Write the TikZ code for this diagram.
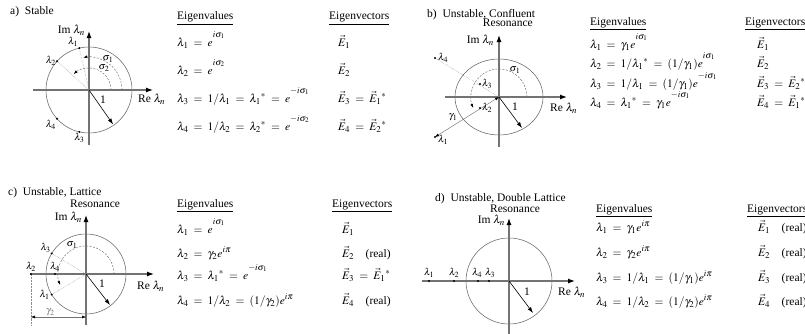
\documentclass[tikz,border=0pt]{standalone}
\usepackage{mathptmx}
\usepackage{fontspec}
\setmainfont{Liberation Serif}
\usetikzlibrary{arrows.meta,positioning}
\DeclareMathSizes{11.5}{11.5}{9}{7}
\DeclareMathSizes{10}{10}{8}{6}
\newcommand{\hexp}[1]{^{\raisebox{4.5pt}{$\scriptstyle #1$}}}
\newcommand{\imlab}{Im $\lambda_n$}
\newcommand{\relab}{Re $\lambda_n$}

\tikzset{
  axis/.style={black!55,line width=1.2pt,-{Latex[black,length=7pt,width=5pt]}},
  unitcirc/.style={black!60,line width=.55pt},
  ray/.style={black!45,line width=.45pt,densely dotted},
  anglearc/.style={black!55,line width=.5pt,dash pattern=on 2pt off 1.5pt,-{Latex[black,length=4pt,width=3pt]}},
  dimline/.style={black!55,line width=.45pt,{Latex[black,length=4pt,width=3pt]}-{Latex[black,length=4pt,width=3pt]}},
  unitvec/.style={black,line width=.6pt,-{Latex[length=6pt,width=4pt]}},
  lbl/.style={font=\fontsize{10}{11}\selectfont,inner sep=1pt},
  eqn/.style={anchor=base west,inner sep=0pt,execute at begin node={\thickmuskip=8mu}},
  title/.style={anchor=base west,inner sep=0pt},
}

\begin{document}
\begin{tikzpicture}[x=1pt,y=1pt,font=\fontsize{11.5}{13}\selectfont]
\clip (0,0) rectangle (805,333);

% ---------------- a) stable
\node[title] (a-title) at (10,319) {a)\ \ Stable};
\begin{scope}[shift={(89,243)}]
\coordinate (a-O) at (0,0);
\coordinate (a-xl) at (-56,0);
\coordinate (a-xr) at (64,0);
\coordinate (a-yb) at (0,-55);
\coordinate (a-yt) at (0,59);
\coordinate (a-l1) at (103:43);
\coordinate (a-l2) at (138:43);
\coordinate (a-l3) at (-103:43);
\coordinate (a-l4) at (-138:43);
\coordinate (a-u) at (-55:42);
\draw[unitcirc] (a-O) circle[radius=43];
\draw[axis] (a-xl) -- (a-xr);
\draw[axis] (a-yb) -- (a-yt);
\draw[ray] (a-O) -- (a-l1);
\draw[ray] (a-O) -- (a-l2);
\draw[anglearc] (a-O) ++(0:33) arc[start angle=0,end angle=100,radius=33];
\draw[anglearc] (a-O) ++(0:22) arc[start angle=0,end angle=134,radius=22];
\draw[unitvec] (a-O) -- (a-u);
\foreach \p in {a-l1,a-l2,a-l3,a-l4} \fill (\p) circle[radius=1.1pt];
\node[lbl,anchor=south east] (a-t1) at (a-l1) {$\lambda_1$};
\node[lbl,anchor=east] (a-t2) at (a-l2) {$\lambda_2$};
\node[lbl,anchor=north] (a-t3) at (a-l3) {$\lambda_3$};
\node[lbl,anchor=north east] (a-t4) at (a-l4) {$\lambda_4$};
\node[lbl] (a-s1) at (19,31) {$\sigma_1$};
\node[lbl] (a-s2) at (15,22) {$\sigma_2$};
\node (a-one) at (14,-10) {1};
\node[anchor=west,inner sep=1pt] (a-re) at (48,-9) {\relab};
\node[anchor=east,inner sep=1pt] (a-im) at (-3,60) {\imlab};
\end{scope}
\node[eqn] (a-vh) at (177,313) {\underline{Eigenvalues}};
\node[eqn] (a-v1) at (177,287) {$\lambda_1 = e\hexp{i\sigma_1}$};
\node[eqn] (a-v2) at (177,259) {$\lambda_2 = e\hexp{i\sigma_2}$};
\node[eqn] (a-v3) at (177,231) {$\lambda_3 = 1/\lambda_1 = \lambda_1{}^* = e\hexp{-i\sigma_1}$};
\node[eqn] (a-v4) at (177,203) {$\lambda_4 = 1/\lambda_2 = \lambda_2{}^* = e\hexp{-i\sigma_2}$};
\node[eqn] (a-eh) at (329,313) {\underline{Eigenvectors}};
\node[eqn] (a-e1) at (338,287) {$\vec{E}_1$};
\node[eqn] (a-e2) at (338,259) {$\vec{E}_2$};
\node[eqn] (a-e3) at (338,231) {$\vec{E}_3 = \vec{E}_1{}^*$};
\node[eqn] (a-e4) at (338,203) {$\vec{E}_4 = \vec{E}_2{}^*$};

% ---------------- b) confluent resonance
\node[title] (b-title) at (427,316) {b)\ \ Unstable, Confluent};
\node[anchor=base east,inner sep=0pt] (b-title2) at (533,306) {Resonance};
\begin{scope}[shift={(499,236)}]
\coordinate (b-O) at (0,0);
\coordinate (b-xl) at (-54,0);
\coordinate (b-xr) at (68,0);
\coordinate (b-yb) at (0,-50);
\coordinate (b-yt) at (0,62);
\coordinate (b-l1) at (-64,-40);
\coordinate (b-l2) at (-19,-11);
\coordinate (b-l3) at (-19,13);
\coordinate (b-l4) at (-64,39);
\coordinate (b-u) at (23,-31);
\draw[unitcirc] (b-O) ellipse[x radius=44,y radius=38];
\draw[axis] (b-xl) -- (b-xr);
\draw[axis] (b-yb) -- (b-yt);
\draw[ray] (b-l4) -- (b-O);
\draw[dimline] (b-l1) -- (b-O);
\draw[anglearc] (b-O) ++(0:28) arc[start angle=0,end angle=203,radius=28];
\draw[unitvec] (b-O) -- (b-u);
\foreach \p in {b-l1,b-l2,b-l3,b-l4} \fill (\p) circle[radius=1.1pt];
\node[lbl,anchor=west,xshift=2pt,yshift=-3pt] (b-t1) at (b-l1) {$\lambda_1$};
\node[lbl,anchor=west,xshift=1pt] (b-t2) at (b-l2) {$\lambda_2$};
\node[lbl,anchor=west,xshift=1pt] (b-t3) at (b-l3) {$\lambda_3$};
\node[lbl,anchor=west,xshift=2pt] (b-t4) at (b-l4) {$\lambda_4$};
\node[lbl] (b-s1) at (16,27) {$\sigma_1$};
\node[lbl] (b-g1) at (-46,-20) {$\gamma_1$};
\node (b-one) at (16,-10) {1};
\node[anchor=west,inner sep=1pt] (b-re) at (50,-11) {\relab};
\node[anchor=east,inner sep=1pt] (b-im) at (-4,57) {\imlab};
\end{scope}
\node[eqn] (b-vh) at (590,308) {\underline{Eigenvalues}};
\node[eqn] (b-v1) at (590,285) {$\lambda_1 = \gamma_1 e\hexp{i\sigma_1}$};
\node[eqn] (b-v2) at (590,266) {$\lambda_2 = 1/\lambda_1{}^* = (1/\gamma_1)e\hexp{i\sigma_1}$};
\node[eqn] (b-v3) at (590,246) {$\lambda_3 = 1/\lambda_1 = (1/\gamma_1)e\hexp{-i\sigma_1}$};
\node[eqn] (b-v4) at (590,227) {$\lambda_4 = \lambda_1{}^* = \gamma_1 e\hexp{-i\sigma_1}$};
\node[eqn] (b-eh) at (745,308) {\underline{Eigenvectors}};
\node[eqn] (b-e1) at (757,285) {$\vec{E}_1$};
\node[eqn] (b-e2) at (757,266) {$\vec{E}_2$};
\node[eqn] (b-e3) at (757,246) {$\vec{E}_3 = \vec{E}_2{}^*$};
\node[eqn] (b-e4) at (757,227) {$\vec{E}_4 = \vec{E}_1{}^*$};

% ---------------- c) lattice resonance
\node[title] (c-title) at (8,138) {c)\ \ Unstable, Lattice};
\node[title] (c-title2) at (70,126) {Resonance};
\begin{scope}[shift={(86,59)}]
\coordinate (c-O) at (0,0);
\coordinate (c-xl) at (-56,0);
\coordinate (c-xr) at (68,0);
\coordinate (c-yb) at (0,-51);
\coordinate (c-yt) at (0,59);
\coordinate (c-l1) at (211:40);
\coordinate (c-l2) at (-55,0);
\coordinate (c-l3) at (149:40);
\coordinate (c-l4) at (-31,0);
\coordinate (c-l2b) at (-55,-51);
\coordinate (c-d1) at (-55,-43);
\coordinate (c-d2) at (0,-43);
\coordinate (c-u) at (24,-31);
\draw[unitcirc] (c-O) circle[radius=40];
\draw[axis] (c-xl) -- (c-xr);
\draw[axis] (c-yb) -- (c-yt);
\draw[ray] (c-O) -- (c-l3);
\draw[ray] (c-O) -- (c-l1);
\draw[ray] (c-l2) -- (c-l2b);
\draw[dimline] (c-d1) -- node[lbl,pos=.35,above] (c-g2) {$\gamma_2$} (c-d2);
\draw[anglearc] (c-O) ++(0:28) arc[start angle=0,end angle=203,radius=28];
\draw[unitvec] (c-O) -- (c-u);
\foreach \p in {c-l1,c-l2,c-l3,c-l4} \fill (\p) circle[radius=1.1pt];
\node[lbl,anchor=south east] (c-t3) at (c-l3) {$\lambda_3$};
\node[lbl,anchor=east,xshift=-1pt] (c-t1) at (c-l1) {$\lambda_1$};
\node[lbl,anchor=south,yshift=1pt] (c-t2) at (c-l2) {$\lambda_2$};
\node[lbl,anchor=south,yshift=1pt] (c-t4) at (c-l4) {$\lambda_4$};
\node[lbl] (c-s1) at (-14,29) {$\sigma_1$};
\node (c-one) at (16,-10) {1};
\node[anchor=west,inner sep=1pt] (c-re) at (50,-12) {\relab};
\node[anchor=east,inner sep=1pt] (c-im) at (-3,57) {\imlab};
\end{scope}
\node[eqn] (c-vh) at (177,126) {\underline{Eigenvalues}};
\node[eqn] (c-v1) at (177,100) {$\lambda_1 = e\hexp{i\sigma_1}$};
\node[eqn] (c-v2) at (177,76) {$\lambda_2 = \gamma_2 e^{i\pi}$};
\node[eqn] (c-v3) at (177,54) {$\lambda_3 = \lambda_1{}^* = e\hexp{-i\sigma_1}$};
\node[eqn] (c-v4) at (177,29) {$\lambda_4 = 1/\lambda_2 = (1/\gamma_2)e^{i\pi}$};
\node[eqn] (c-eh) at (332,126) {\underline{Eigenvectors}};
\node[eqn] (c-e1) at (342,100) {$\vec{E}_1$};
\node[eqn] (c-e2) at (342,76) {$\vec{E}_2$\quad(real)};
\node[eqn] (c-e3) at (342,54) {$\vec{E}_3 = \vec{E}_1{}^*$};
\node[eqn] (c-e4) at (342,29) {$\vec{E}_4$\quad(real)};

% ---------------- d) double lattice resonance
\node[title] (d-title) at (435,132) {d)\ \ Unstable, Double Lattice};
\node[title] (d-title2) at (490,121) {Resonance};
\begin{scope}[shift={(509,52)}]
\coordinate (d-O) at (0,0);
\coordinate (d-xl) at (-87,0);
\coordinate (d-xr) at (66,0);
\coordinate (d-yb) at (0,-60);
\coordinate (d-yt) at (0,63);
\coordinate (d-l1) at (-80,0);
\coordinate (d-l2) at (-55,0);
\coordinate (d-l4) at (-31,0);
\coordinate (d-l3) at (-20,0);
\coordinate (d-u) at (24,-32);
\draw[unitcirc] (d-O) circle[radius=43];
\draw[axis] (d-xl) -- (d-xr);
\draw[axis] (d-yb) -- (d-yt);
\draw[unitvec] (d-O) -- (d-u);
\foreach \p in {d-l1,d-l2,d-l3,d-l4} \fill (\p) circle[radius=1.1pt];
\node[lbl,anchor=south,yshift=2pt] (d-t1) at (d-l1) {$\lambda_1$};
\node[lbl,anchor=south,yshift=2pt] (d-t2) at (d-l2) {$\lambda_2$};
\node[lbl,anchor=south,yshift=2pt,xshift=-1pt] (d-t4) at (d-l4) {$\lambda_4$};
\node[lbl,anchor=south,yshift=2pt,xshift=1pt] (d-t3) at (d-l3) {$\lambda_3$};
\node (d-one) at (18,-11) {1};
\node[anchor=west,inner sep=1pt] (d-re) at (48,-11) {\relab};
\node[anchor=east,inner sep=1pt] (d-im) at (-3,61) {\imlab};
\end{scope}
\node[eqn] (d-vh) at (596,121) {\underline{Eigenvalues}};
\node[eqn] (d-v1) at (596,102) {$\lambda_1 = \gamma_1 e^{i\pi}$};
\node[eqn] (d-v2) at (596,77) {$\lambda_2 = \gamma_2 e^{i\pi}$};
\node[eqn] (d-v3) at (596,52) {$\lambda_3 = 1/\lambda_1 = (1/\gamma_1)e^{i\pi}$};
\node[eqn] (d-v4) at (596,28) {$\lambda_4 = 1/\lambda_2 = (1/\gamma_2)e^{i\pi}$};
\node[eqn] (d-eh) at (747,121) {\underline{Eigenvectors}};
\node[eqn] (d-e1) at (758,102) {$\vec{E}_1$\quad(real)};
\node[eqn] (d-e2) at (758,77) {$\vec{E}_2$\quad(real)};
\node[eqn] (d-e3) at (758,52) {$\vec{E}_3$\quad(real)};
\node[eqn] (d-e4) at (758,28) {$\vec{E}_4$\quad(real)};
\end{tikzpicture}
\end{document}
